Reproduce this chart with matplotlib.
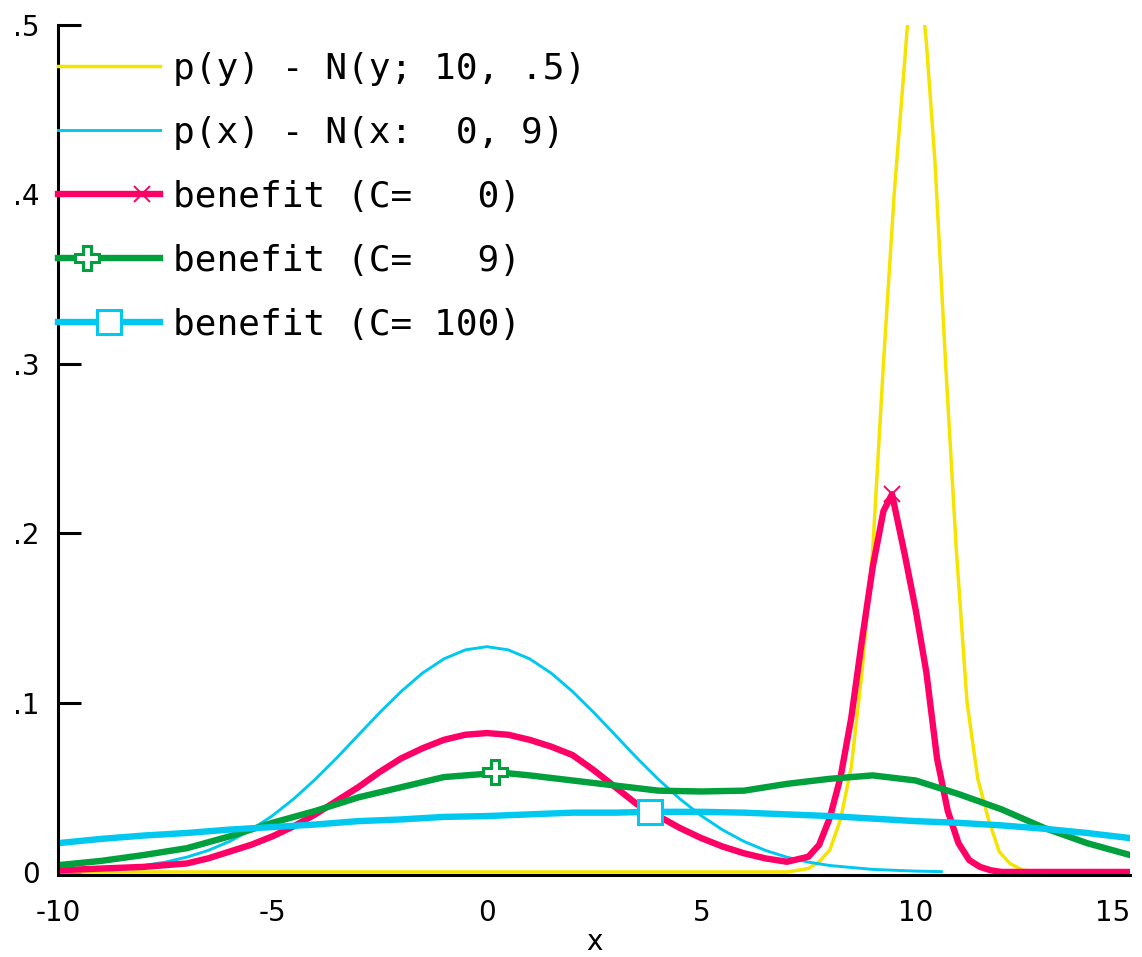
import matplotlib
matplotlib.use('Agg')
import matplotlib.pyplot as plt
from matplotlib.legend_handler import HandlerLine2D

# p(y) = N(y; 10, .5)
py_x = [-10, 7.0, 7.5, 7.75, 8.0, 8.25, 8.5, 8.75, 9.0, 9.25, 9.5, 9.75, 9.9,
        10.1, 10.25, 10.45, 10.7, 10.95, 11.2, 11.45, 11.7, 11.95, 12.2, 12.5, 13, 15]
py_y = [0, 0, 0.002, 0.006, 0.013, 0.031, 0.062, 0.118, 0.19, 0.30, 0.40, 0.48, 0.53,
        0.53, 0.49, 0.42, 0.30, 0.19, 0.10, 0.055, 0.031, 0.012, 0.005, 0.001, 0, 0]

# p(x) = N(x; 0, 9)
px_x = [-10, -9, -8, -7.5, -7, -6.5, -6, -5.5, -5, -4.5, -4, -3.5, -3, -2.5, -2, -1.5,
        -1, -0.5, 0, 0.5, 1, 1.5, 2, 2.5, 3, 3.5, 4, 4.5, 5, 5.5, 6, 6.5, 7, 7.5,
        8, 9, 10, 10.6]
px_y = [0.0005, 0.0015, 0.0038, 0.0058, 0.0087, 0.0127, 0.018, 0.0248, 0.0332, 0.0432,
        0.0547, 0.0673, 0.0807, 0.094, 0.1065, 0.1174, 0.1258, 0.1311, 0.133, 0.1311,
        0.1258, 0.1174, 0.1065, 0.094, 0.0807, 0.0673, 0.0547, 0.0432, 0.0332, 0.0248,
        0.018, 0.0127, 0.0087, 0.0058, 0.0038, 0.0015, 0.0005, 0.0002]

# benefit, C = 0
b0_x = [-10, -9, -8, -7.5, -7, -6.5, -6, -5.5, -5, -4.5, -4, -3.5, -3, -2.5, -2, -1.5,
        -1, -0.5, 0, 0.5, 1, 1.5, 2, 2.5, 3, 3.5, 4, 4.5, 5, 5.5, 6, 6.5, 7, 7.5, 7.75,
        8, 8.25, 8.5, 8.75, 9, 9.25, 9.45, 9.75, 10, 10.25, 10.5, 10.75, 11, 11.25,
        11.5, 11.75, 12, 15]
b0_y = [0.001, 0.002, 0.003, 0.004, 0.005, 0.008, 0.012, 0.016, 0.021, 0.027, 0.034,
        0.042, 0.050, 0.059, 0.067, 0.073, 0.078, 0.081, 0.082, 0.081, 0.078, 0.074,
        0.069, 0.060, 0.050, 0.040, 0.033, 0.026, 0.020, 0.015, 0.011, 0.008, 0.006,
        0.009, 0.016, 0.032, 0.056, 0.091, 0.137, 0.180, 0.213, 0.223, 0.187, 0.155,
        0.118, 0.067, 0.036, 0.017, 0.007, 0.003, 0.001, 0, 0]
b0_mark = 41

# benefit, C = 9
b9_x = [-10, -9, -8, -7, -6, -5, -4, -3, -2, -1, 0, 0.2, 1, 2, 3, 4, 5, 6, 7, 8, 9,
        10, 11, 12, 13, 14, 15]
b9_y = [0.004, 0.0065, 0.010, 0.014, 0.021, 0.029, 0.036, 0.044, 0.050, 0.056, 0.058,
        0.059, 0.057, 0.054, 0.051, 0.048, 0.0475, 0.048, 0.052, 0.055, 0.057, 0.054,
        0.046, 0.037, 0.026, 0.017, 0.010]
b9_mark = 11

# benefit, C = 100
b100_x = [-10, -9, -8, -7, -6, -5, -4, -3, -2, -1, 0, 1, 2, 3, 3.8, 5, 6, 7, 8, 9,
          10, 11, 12, 13, 14, 15]
b100_y = [0.017, 0.0195, 0.0215, 0.023, 0.025, 0.0265, 0.028, 0.030, 0.031, 0.0325,
          0.033, 0.034, 0.035, 0.035, 0.0355, 0.0355, 0.035, 0.034, 0.033, 0.0315,
          0.030, 0.029, 0.0275, 0.0255, 0.023, 0.020]
b100_mark = 14

labels = ['p(y) - N(y; 10, .5)', 'p(x) - N(x:  0, 9)',
          'benefit (C=   0)', 'benefit (C=   9)', 'benefit (C= 100)']
xticks = [-10, -5, 0, 5, 10, 15]
yticks = [0, .1, .2, .3, .4, .5]
ytick_labels = ['0', '.1', '.2', '.3', '.4', '.5']

YELLOW = '#F5E400'
CYAN = '#00C8EE'
RED = '#FF0066'
GREEN = '#00A03C'


class MarkAt(HandlerLine2D):
    # put the single legend marker somewhere other than the middle
    def __init__(self, frac):
        super().__init__(numpoints=1)
        self.frac = frac

    def create_artists(self, legend, orig_handle, xdescent, ydescent, width,
                       height, fontsize, trans):
        arts = super().create_artists(legend, orig_handle, xdescent, ydescent,
                                      width, height, fontsize, trans)
        line = arts[0]
        x = line.get_xdata()
        line.set_xdata([x[0], x[0] + self.frac * (x[-1] - x[0]), x[-1]])
        return arts


fig = plt.figure(figsize=(11.42, 9.57), dpi=100)
ax = fig.add_axes([58 / 1142, 82 / 957, 1072 / 1142, 850 / 957])

l1, = ax.plot(py_x, py_y, color=YELLOW, lw=2.5, label=labels[0])
l2, = ax.plot(px_x, px_y, color=CYAN, lw=2.1, label=labels[1])
l3, = ax.plot(b0_x, b0_y, color=RED, lw=4.6, label=labels[2],
              marker='x', ms=12, mew=1.4, markevery=[b0_mark])
l4, = ax.plot(b9_x, b9_y, color=GREEN, lw=4.6, label=labels[3],
              marker='P', ms=17, mew=2.2, mfc='white', mec=GREEN,
              markevery=[b9_mark])
l5, = ax.plot(b100_x, b100_y, color=CYAN, lw=4.6, label=labels[4],
              marker='s', ms=17, mew=2.2, mfc='white', mec=CYAN,
              markevery=[b100_mark])

ax.set_xlim(-10, 15)
ax.set_ylim(-0.0018, 0.5)
ax.set_xticks(xticks)
ax.set_xticklabels(['%d' % t for t in xticks])
ax.set_yticks(yticks)
ax.set_yticklabels(ytick_labels)
ax.get_xticklabels()[-1].set_horizontalalignment('right')

for s in ('top', 'right'):
    ax.spines[s].set_visible(False)
for s in ('left', 'bottom'):
    ax.spines[s].set_linewidth(2.2)
ax.tick_params(axis='y', direction='in', length=16.5, width=2.2,
               pad=13, labelsize=20)
ax.tick_params(axis='x', direction='in', length=0, pad=17, labelsize=20)
ax.set_xlabel('x', fontsize=20, labelpad=1)

leg = ax.legend(handles=[l1, l2, l3, l4, l5],
                handler_map={l3: MarkAt(0.82), l4: MarkAt(0.28),
                             l5: MarkAt(0.5)},
                loc='upper left', bbox_to_anchor=(58 / 1142, 1 - 52 / 957),
                bbox_transform=fig.transFigure, frameon=False,
                borderpad=0, borderaxespad=0, handlelength=2.83,
                handletextpad=0.36, labelspacing=0.83,
                prop={'family': 'DejaVu Sans Mono', 'size': 26})

fig.savefig('out.png', dpi=100)
